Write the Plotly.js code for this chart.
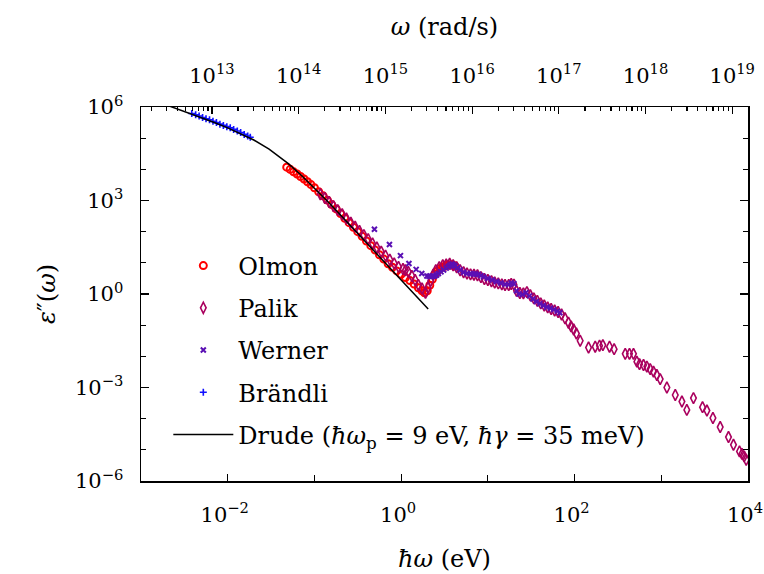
<!DOCTYPE html>
<html>
<head>
<meta charset="utf-8">
<script src="https://cdn.plot.ly/plotly-3.0.1.min.js"></script>
<style>html,body{margin:0;padding:0;background:#fff;}#chart{width:764px;height:574px;}</style>
</head>
<body>
<div id="chart"></div>
<script>
// ---------------- data (photon energy in eV, epsilon'') ----------------
const olmonE = [0.0479,0.0525,0.0575,0.0631,0.0692,0.0759,0.0832,0.0912,0.100,0.112,0.126,0.141,0.158,0.178,0.200,0.224,0.251,0.282,0.316,0.355,0.398,0.447,0.501,0.562,0.631,0.708,0.794,0.891,1.00,1.12,1.26,1.41,1.58,1.74,1.86,2.00,2.14,2.29,2.45,2.63,2.82,3.02,3.24,3.47,3.72,3.98,4.17];
const olmonEps = [11750,10000,8318,7079,5888,4898,3981,3236,2570,1905,1413,1023,741,537,380,269,195,138,100,70.8,50.1,35.5,25.7,18.2,13.2,9.33,7.24,5.50,4.27,3.39,2.69,2.09,1.58,1.26,1.10,1.26,1.91,2.95,4.27,5.50,6.61,7.41,7.94,8.51,8.71,8.32,7.94];

const palikE = [0.117,0.132,0.148,0.166,0.186,0.209,0.234,0.263,0.295,0.331,0.372,0.417,0.468,0.525,0.589,0.661,0.741,0.832,0.933,1.05,1.12,1.21,1.33,1.45,1.58,1.74,1.91,2.04,2.19,2.34,2.51,2.75,3.02,3.31,3.63,3.98,4.37,4.79,5.25,5.75,6.31,6.92,7.59,8.32,9.12,10.0,11.0,12.0,13.2,14.5,15.8,17.4,18.6,20.0,21.4,23.4,25.7,28.2,30.9,33.9,37.2,40.7,44.7,49.0,53.7,58.9,64.6,70.8,77.6,85.1,91.2,97.7,105,116,145,173,194,212,253,286,384,430,478,523,561,624,682,745,813,889,971,1160,1450,1730,1970,2350,2990,3360,3940,4780,5960,6800,7980,8510,9040,9530];
const palikEps = [1585,1202,891,661,490,363,263,195,145,105,77.6,57.5,41.7,30.9,22.9,17.0,12.6,9.55,7.41,6.31,5.75,5.13,3.80,2.82,1.95,1.51,1.10,1.58,2.63,4.17,5.75,7.24,8.32,8.91,9.33,8.32,7.24,5.75,5.01,4.57,4.27,4.17,3.98,3.47,3.02,2.82,2.57,2.34,2.19,2.04,1.95,1.95,2.09,2.00,1.26,1.07,1.05,1.15,0.912,0.724,0.603,0.501,0.427,0.372,0.331,0.295,0.263,0.219,0.166,0.120,0.0912,0.0724,0.0537,0.0316,0.0191,0.0204,0.0219,0.0229,0.0204,0.0170,0.0120,0.0120,0.0120,0.00676,0.00562,0.00525,0.00468,0.00389,0.00324,0.00251,0.00186,0.00100,0.000575,0.000355,0.000191,0.000457,0.000234,0.000182,0.000105,5.37e-5,2.57e-5,1.45e-5,8.91e-6,7.41e-6,6.17e-6,4.79e-6];

const wernerE = [0.492,0.733,0.982,1.23,1.49,1.73,1.98,2.09,2.20,2.34,2.45,2.57,2.69,2.88,3.09,3.31,3.51,3.67,3.85,3.98,4.17,4.47,4.79,5.25,5.75,6.31,6.76,7.24,7.76,8.32,8.91,10.0,11.2,12.6,14.1,15.8,17.4,18.6,20.0,21.4,22.9,25.1,27.5,30.2,33.1,36.3,39.8,43.7,47.9,52.5,57.5,63.1,67.6];
const wernerEps = [120,38.9,17.0,9.55,6.17,4.57,3.80,3.72,3.63,3.72,3.80,4.07,4.57,5.13,5.89,6.76,7.50,8.32,9.12,8.71,7.94,6.92,5.89,5.01,4.57,4.47,4.37,4.37,4.27,3.89,3.55,3.16,2.82,2.51,2.24,2.04,2.00,2.24,2.14,1.26,1.00,0.955,1.10,0.871,0.692,0.575,0.490,0.427,0.380,0.347,0.316,0.282,0.251];

const brandliE = [0.00385,0.00427,0.00468,0.00513,0.00562,0.00617,0.00676,0.00741,0.00813,0.00891,0.00977,0.0107,0.0117,0.0129,0.0141,0.0155,0.0170,0.0182];
const brandliEps = [6.17e5,5.62e5,5.13e5,4.57e5,4.17e5,3.89e5,3.47e5,3.16e5,2.82e5,2.57e5,2.34e5,2.14e5,1.91e5,1.70e5,1.51e5,1.32e5,1.17e5,1.07e5];

const drudeE = [0.001,0.0015,0.002,0.003,0.005,0.007,0.01,0.015,0.02,0.03,0.05,0.07,0.1,0.15,0.2,0.3,0.5,0.7,1.0,1.5,2.05];
const drudeEps = [2.312e6,1.540e6,1.153e6,7.658e5,4.536e5,3.179e5,2.140e5,1.303e5,8.723e4,4.447e4,1.522e4,6608,2526,796,343.8,103.6,22.57,8.24,2.832,0.8395,0.329];

const seriesNames = ['Olmon','Palik','Werner','Brändli','Drude (<i>ħω</i><sub>p</sub> = 9 eV, <i>ħγ</i> = 35 meV)'];

const xTickVals = [1e-2,1e0,1e2,1e4];
const xTickText = ['10<sup>−2</sup>','10<sup>0</sup>','10<sup>2</sup>','10<sup>4</sup>'];
const xMinorVals = [1e-3,1e-1,1e1,1e3];
const yTickVals = [1e-6,1e-3,1e0,1e3,1e6];
const yTickText = ['10<sup>−6</sup>','10<sup>−3</sup>','10<sup>0</sup>','10<sup>3</sup>','10<sup>6</sup>'];
const yMinorVals = [1e-5,1e-4,1e-2,1e-1,1e1,1e2,1e4,1e5];
const wTickVals = [1e13,1e14,1e15,1e16,1e17,1e18,1e19];
const wTickText = ['10<sup>13</sup>','10<sup>14</sup>','10<sup>15</sup>','10<sup>16</sup>','10<sup>17</sup>','10<sup>18</sup>','10<sup>19</sup>'];

// ---------------- chart ----------------
const HBAR_LOG = -15.1817; // log10(hbar in eV*s)
const wMinor = [];
for (let n = 12; n <= 19; n++) for (let m = 2; m <= 9; m++) wMinor.push(m * Math.pow(10, n));

const FONT = 'DejaVu Serif';
const FS_TICK = 21, FS_LEG = 24, FS_TITLE = 24;

const traces = [
  {x: olmonE, y: olmonEps, name: seriesNames[0], legendgroup: 'g1', mode: 'markers', type: 'scatter',
   marker: {symbol: 'circle-open', size: 7, color: '#ff0000', line: {width: 2, color: '#ff0000'}}},
  {x: palikE, y: palikEps, name: seriesNames[1], legendgroup: 'g2', mode: 'markers', type: 'scatter',
   marker: {symbol: 'diamond-tall-open', size: 8, color: '#aa005e', line: {width: 1.6, color: '#aa005e'}}},
  {x: wernerE, y: wernerEps, name: seriesNames[2], legendgroup: 'g3', mode: 'markers', type: 'scatter',
   marker: {symbol: 'x-thin-open', size: 5, color: '#5a10b4', line: {width: 2, color: '#5a10b4'}}},
  {x: brandliE, y: brandliEps, name: seriesNames[3], legendgroup: 'g4', mode: 'markers', type: 'scatter',
   marker: {symbol: 'cross-thin-open', size: 5, color: '#1010ff', line: {width: 1.6, color: '#1010ff'}}},
  {x: drudeE, y: drudeEps, name: seriesNames[4], legendgroup: 'g5', mode: 'lines', type: 'scatter',
   line: {color: '#000000', width: 1.5}}
];

const axisCommon = {
  type: 'log', showgrid: false, zeroline: false, showline: true, linecolor: '#000', linewidth: 1.5,
  ticks: 'inside', tickcolor: '#000', tickwidth: 1.2, ticklabeloverflow: 'allow',
  tickfont: {family: FONT, size: FS_TICK, color: '#000'}
};

const layout = {
  width: 764, height: 574,
  margin: {l: 141, r: 16, t: 107, b: 93, pad: 0},
  paper_bgcolor: '#fff', plot_bgcolor: '#fff',
  font: {family: FONT, size: FS_TICK, color: '#000'},
  showlegend: true,
  legend: {x: 0.045, y: 0.635, xanchor: 'left', yanchor: 'top', bgcolor: 'rgba(0,0,0,0)', borderwidth: 0,
           font: {family: FONT, size: FS_LEG, color: '#000'}, tracegroupgap: 8, itemwidth: 60},
  xaxis: Object.assign({}, axisCommon, {
    range: [-3, 4], tickvals: xTickVals, ticktext: xTickText, ticklen: 7, mirror: false,
    minor: {tickvals: xMinorVals, ticks: 'inside', ticklen: 6, tickcolor: '#000', tickwidth: 1.2, showgrid: false},
    ticklabelstandoff: 14, ticklabelshift: -3,
    title: {text: '<i>ħω</i> (eV)', font: {family: FONT, size: FS_TITLE}, standoff: 24}
  }),
  xaxis2: Object.assign({}, axisCommon, {
    overlaying: 'x', side: 'top', anchor: 'y', range: [-3 - HBAR_LOG, 4 - HBAR_LOG],
    tickvals: wTickVals, ticktext: wTickText, ticklen: 7, mirror: false,
    minor: {tickvals: wMinor, ticks: 'inside', ticklen: 4, tickcolor: '#000', tickwidth: 1.2, showgrid: false},
    ticklabelstandoff: 14,
    title: {text: '<i>ω</i> (rad/s)', font: {family: FONT, size: FS_TITLE}, standoff: 18}
  }),
  yaxis: Object.assign({}, axisCommon, {
    range: [-6, 6], tickvals: yTickVals, ticktext: yTickText, ticklen: 8, mirror: 'ticks',
    minor: {tickvals: yMinorVals, ticks: 'inside', ticklen: 5, tickcolor: '#000', tickwidth: 1.2, showgrid: false},
    ticklabelstandoff: 12,
    title: {text: '<i>ε</i>″(<i>ω</i>)', font: {family: FONT, size: FS_TITLE}, standoff: 12}
  })
};

// invisible helper point so the top (ω) axis has a subplot to draw on
traces.push({x: [wTickVals[0]], y: [1e-9], xaxis: 'x2', yaxis: 'y', mode: 'markers', showlegend: false,
             hoverinfo: 'skip', marker: {size: 1, opacity: 0}});

Plotly.newPlot('chart', traces, layout, {staticPlot: true, displayModeBar: false});
</script>
</body>
</html>
